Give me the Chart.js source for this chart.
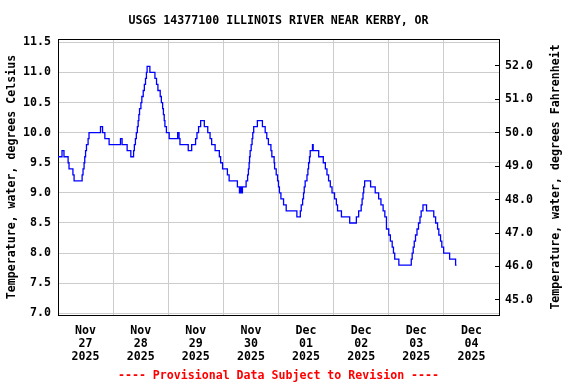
<!DOCTYPE html>
<html>
<head>
<meta charset="utf-8">
<script src="https://cdn.jsdelivr.net/npm/chart.js@4/dist/chart.umd.min.js"></script>
<style>
  html, body { margin: 0; padding: 0; background: #ffffff; }
  #wrap { width: 576px; height: 384px; }
</style>
</head>
<body>
<div id="wrap"><canvas id="c" width="576" height="384"></canvas></div>
<script>
// ---- chart texts ----
const chartTitle = 'USGS 14377100 ILLINOIS RIVER NEAR KERBY, OR';
const footerText = '---- Provisional Data Subject to Revision ----';
const leftAxisTitle = 'Temperature, water, degrees Celsius';
const rightAxisTitle = 'Temperature, water, degrees Fahrenheit';

// ---- x axis: hours since 2025-11-27 00:00 ----
const dayMonths = ['Nov', 'Nov', 'Nov', 'Nov', 'Dec', 'Dec', 'Dec', 'Dec'];
const dayNums   = ['27', '28', '29', '30', '01', '02', '03', '04'];
const dayYears  = ['2025', '2025', '2025', '2025', '2025', '2025', '2025', '2025'];

// ---- tick labels ----
const celsiusTicks = [7.0, 7.5, 8.0, 8.5, 9.0, 9.5, 10.0, 10.5, 11.0, 11.5];
const fahrenheitTicks = [45, 46, 47, 48, 49, 50, 51, 52];

// ---- series: time (hours) at which each reading level starts, temperature (deg C) ----
const hours = [0, 1.75, 2.6, 4.4, 4.8, 6.5, 7.0, 10.5, 10.9, 11.35, 11.65, 12.0, 12.4, 13.1, 13.5,
  18.5, 19.4, 20.4, 22.25, 27.2, 27.9, 30.1, 31.7, 32.9, 33.25, 33.7, 34.1, 34.55, 34.9, 35.2,
  35.5, 36.1, 36.5, 37.1, 37.6, 38.1, 38.5, 38.8, 40.0, 42.2, 42.9, 43.5, 44.5, 45.0, 45.55,
  45.9, 46.25, 46.55, 47.2, 48.4, 52.1, 52.7, 53.1, 56.7, 58.2, 59.9, 60.5, 61.2, 62.1, 63.7,
  65.2, 66.2, 66.9, 68.4, 70.25, 70.8, 71.65, 73.75, 74.5, 78.1, 79.0, 79.4, 79.85, 80.3, 81.9,
  82.55, 82.9, 83.2, 83.4, 83.65, 84.1, 84.5, 84.8, 85.2, 86.8, 89.0, 90.2, 90.9, 91.6, 92.7,
  93.1, 94.1, 94.3, 95.0, 95.6, 96.0, 96.4, 97.05, 98.2, 99.35, 104.0, 105.5, 105.9, 106.5, 106.9,
  107.2, 107.6, 108.4, 108.8, 109.1, 109.5, 109.8, 110.8, 111.1, 113.5, 115.5, 116.4, 117.1, 117.8,
  118.55, 119.3, 120.4, 121.2, 121.7, 123.4, 127.0, 129.9, 130.9, 132.0, 132.4, 132.8, 133.1, 133.5,
  136.1, 138.1, 139.6, 140.6, 141.55, 142.3, 143.0, 144.0, 144.7, 145.5, 146.05, 146.6, 148.4,
  153.8, 154.2, 154.65, 155.1, 155.65, 156.3, 156.95, 157.6, 158.1, 158.9, 160.45, 163.6, 164.4,
  165.25, 165.8, 166.55, 167.1, 167.9, 170.5, 173.1, 173.5];
const tempC = [9.6, 9.7, 9.6, 9.5, 9.4, 9.3, 9.2, 9.3, 9.4, 9.5, 9.6, 9.7, 9.8, 9.9, 10.0,
  10.1, 10.0, 9.9, 9.8, 9.9, 9.8, 9.7, 9.6, 9.7, 9.8, 9.9, 10.0, 10.1, 10.2, 10.3,
  10.4, 10.5, 10.6, 10.7, 10.8, 10.9, 11.0, 11.1, 11.0, 10.9, 10.8, 10.7, 10.6, 10.5, 10.4,
  10.3, 10.2, 10.1, 10.0, 9.9, 10.0, 9.9, 9.8, 9.7, 9.8, 9.9, 10.0, 10.1, 10.2, 10.1,
  10.0, 9.9, 9.8, 9.7, 9.6, 9.5, 9.4, 9.3, 9.2, 9.1, 9.0, 9.1, 9.0, 9.1, 9.2,
  9.3, 9.4, 9.5, 9.6, 9.7, 9.8, 9.9, 10.0, 10.1, 10.2, 10.1, 10.0, 9.9, 9.8, 9.7,
  9.6, 9.5, 9.4, 9.3, 9.2, 9.1, 9.0, 8.9, 8.8, 8.7, 8.6, 8.7, 8.8, 8.9, 9.0,
  9.1, 9.2, 9.3, 9.4, 9.5, 9.6, 9.7, 9.8, 9.7, 9.6, 9.5, 9.4, 9.3, 9.2,
  9.1, 9.0, 8.9, 8.8, 8.7, 8.6, 8.5, 8.6, 8.7, 8.8, 8.9, 9.0, 9.1, 9.2,
  9.1, 9.0, 8.9, 8.8, 8.7, 8.6, 8.4, 8.3, 8.2, 8.1, 8.0, 7.9, 7.8,
  7.9, 8.0, 8.1, 8.2, 8.3, 8.4, 8.5, 8.6, 8.7, 8.8, 8.7, 8.6, 8.5,
  8.4, 8.3, 8.2, 8.1, 8.0, 7.9, 7.8, 7.8];

// ---- axis ranges ----
const xMinHours = 0;
const xMaxHours = 192;
const yMinC = 6.972;
const yMaxC = 11.555;

const FONT = { family: "'DejaVu Sans Mono', monospace", size: 11.6, weight: 'bold', lineHeight: 1.15 };
const TITLE_FONT = { family: "'DejaVu Sans Mono', monospace", size: 11.6, weight: 'bold', lineHeight: 1.2 };

const xTickValues = [];
for (let h = xMinHours; h <= xMaxHours; h += 12) xTickValues.push(h);

const rightTitlePlugin = {
  id: 'rightTitle',
  afterDraw(chart) {
    const ctx = chart.ctx;
    const area = chart.chartArea;
    ctx.save();
    ctx.translate(chart.width - 20, (area.top + area.bottom) / 2);
    ctx.rotate(-Math.PI / 2);
    ctx.font = "bold 11.6px 'DejaVu Sans Mono', monospace";
    ctx.fillStyle = '#000000';
    ctx.textAlign = 'center';
    ctx.textBaseline = 'middle';
    ctx.fillText(rightAxisTitle, 0, 0);
    ctx.restore();
  }
};

new Chart(document.getElementById('c'), {
  type: 'line',
  data: {
    datasets: [{
      data: hours.map((h, i) => ({ x: h, y: tempC[i] })),
      xAxisID: 'x',
      yAxisID: 'y',
      borderColor: '#0000ff',
      borderWidth: 1.3,
      stepped: true,
      pointRadius: 0,
      fill: false
    }]
  },
  options: {
    responsive: false,
    animation: false,
    devicePixelRatio: 1,
    layout: { padding: 0 },
    plugins: { legend: { display: false }, title: { display: false }, tooltip: { enabled: false } },
    scales: {
      x: {
        type: 'linear', position: 'bottom', min: xMinHours, max: xMaxHours,
        afterBuildTicks: s => { s.ticks = xTickValues.map(v => ({ value: v })); },
        ticks: {
          autoSkip: false, maxRotation: 0, minRotation: 0, padding: 9, color: '#000000', font: FONT,
          callback: v => {
            if (v % 24 !== 12) return '';
            const d = (v - 12) / 24;
            return [dayMonths[d], dayNums[d], dayYears[d]];
          }
        },
        grid: {
          drawTicks: false, lineWidth: 1,
          color: c => (c.tick && c.tick.value % 24 === 0) ? '#cccccc' : 'rgba(0,0,0,0)'
        },
        border: { display: true, color: '#000000', width: 1 },
        title: { display: true, text: footerText, color: '#ff0000', font: TITLE_FONT, padding: { top: 0, bottom: 1 } },
        afterFit: s => { s.height = 69; }
      },
      xTop: {
        type: 'linear', position: 'top', min: xMinHours, max: xMaxHours,
        ticks: { display: false },
        grid: { display: false, drawTicks: false },
        border: { display: true, color: '#000000', width: 1 },
        title: { display: true, text: chartTitle, color: '#000000', font: TITLE_FONT, padding: { top: 14, bottom: 0 } },
        afterFit: s => { s.height = 39; }
      },
      y: {
        type: 'linear', position: 'left', min: yMinC, max: yMaxC,
        afterBuildTicks: s => { s.ticks = celsiusTicks.map(v => ({ value: v })); },
        ticks: { padding: 7, color: '#000000', font: FONT, callback: v => Number(v).toFixed(1) },
        grid: { color: '#cccccc', drawTicks: false, lineWidth: 1 },
        border: { display: true, color: '#000000', width: 1 },
        title: { display: true, text: leftAxisTitle, color: '#000000', font: TITLE_FONT, padding: { top: 5, bottom: 0 } },
        afterFit: s => { s.width = 58; }
      },
      yF: {
        type: 'linear', position: 'right', min: yMinC * 1.8 + 32, max: yMaxC * 1.8 + 32,
        afterBuildTicks: s => { s.ticks = fahrenheitTicks.map(v => ({ value: v })); },
        ticks: { padding: 10, color: '#000000', font: FONT, callback: v => Number(v).toFixed(1) },
        grid: { drawOnChartArea: false, drawTicks: true, tickLength: -4, tickColor: '#000000', lineWidth: 1 },
        border: { display: true, color: '#000000', width: 1 },
        afterFit: s => { s.width = 77; }
      }
    }
  },
  plugins: [rightTitlePlugin]
});
</script>
</body>
</html>
